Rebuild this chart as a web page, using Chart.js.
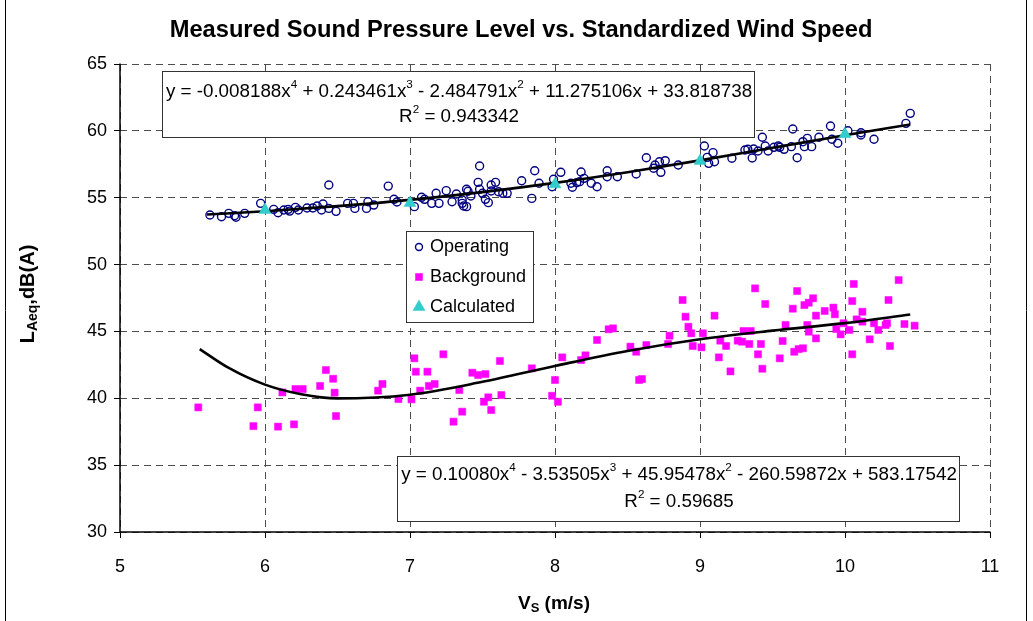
<!DOCTYPE html>
<html>
<head>
<meta charset="utf-8">
<script src="https://cdn.jsdelivr.net/npm/chart.js@4/dist/chart.umd.min.js"></script>
<style>
  html, body { margin: 0; padding: 0; background: #fff; }
  #wrap { width: 1033px; height: 621px; position: relative; }
</style>
</head>
<body>
<div id="wrap"><canvas id="c" width="1033" height="621"></canvas></div>
<script>
// ---------------- DATA ----------------
const chartTitle = 'Measured Sound Pressure Level vs. Standardized Wind Speed';
const xTicks = [5, 6, 7, 8, 9, 10, 11];
const yTicks = [30, 35, 40, 45, 50, 55, 60, 65];

const operatingX = [5.62,5.70,5.75,5.79,5.80,5.86,5.97,6.06,6.09,6.13,6.16,6.17,6.21,6.23,6.29,6.33,6.36,6.39,6.40,6.44,
  6.44,6.49,6.57,6.61,6.62,6.70,6.71,6.75,6.85,6.89,6.91,7.03,7.08,7.10,7.15,7.18,7.20,7.25,7.29,7.32,
  7.36,7.36,7.37,7.39,7.39,7.40,7.42,7.47,7.48,7.48,7.50,7.52,7.54,7.56,7.56,7.59,7.61,7.64,7.67,7.77,
  7.84,7.86,7.89,7.98,7.99,8.04,8.11,8.12,8.15,8.17,8.18,8.20,8.25,8.29,8.36,8.36,8.43,8.56,8.63,8.68,
  8.69,8.72,8.73,8.76,8.85,9.03,9.05,9.06,9.09,9.10,9.22,9.31,9.33,9.36,9.37,9.40,9.43,9.45,9.47,9.51,
  9.54,9.55,9.58,9.63,9.64,9.67,9.71,9.72,9.74,9.77,9.82,9.90,9.91,9.95,10.02,10.11,10.11,10.20,10.42,10.45];
const operatingY = [53.71,53.58,53.83,53.66,53.54,53.83,54.58,54.13,53.88,54.08,54.13,54.00,54.28,54.08,54.23,54.23,54.38,54.08,54.53,55.95,
  54.20,53.98,54.58,54.58,54.20,54.20,54.70,54.45,55.87,54.88,54.68,54.33,55.03,54.88,54.58,55.33,54.58,55.53,54.70,55.28,
  54.83,54.58,54.38,54.33,55.63,55.48,55.13,56.15,57.37,55.63,55.33,54.88,54.63,55.95,55.50,56.15,55.45,55.33,55.33,56.27,
  54.95,57.02,56.08,55.82,56.38,56.90,56.08,55.78,56.13,56.20,56.92,56.45,56.08,55.82,56.57,57.02,56.57,56.77,57.99,57.20,
  57.45,57.69,56.90,57.77,57.45,58.87,58.02,57.57,58.37,57.69,57.95,58.57,58.62,57.97,58.64,58.49,59.52,58.87,58.49,58.77,
  58.87,58.77,58.62,58.82,60.14,57.99,59.19,58.82,59.44,58.82,59.52,60.36,59.37,59.07,60.01,59.86,59.69,59.37,60.56,61.31];

const backgroundX = [5.54,5.92,5.95,6.09,6.12,6.20,6.21,6.26,6.38,6.42,6.47,6.48,6.49,6.78,6.81,6.92,7.01,7.03,7.04,7.07,
  7.12,7.13,7.17,7.23,7.30,7.34,7.36,7.43,7.47,7.52,7.51,7.54,7.56,7.62,7.63,7.84,7.98,8.00,8.02,8.05,
  8.18,8.21,8.29,8.37,8.40,8.52,8.56,8.58,8.60,8.63,8.78,8.79,8.88,8.90,8.92,8.94,8.95,9.01,9.02,9.10,
  9.13,9.14,9.18,9.21,9.26,9.29,9.30,9.34,9.35,9.38,9.40,9.42,9.43,9.45,9.55,9.57,9.59,9.64,9.65,9.67,
  9.68,9.71,9.72,9.74,9.75,9.78,9.75,9.80,9.80,9.86,9.92,9.93,9.94,9.97,9.99,10.03,10.05,10.05,10.06,10.08,
  10.12,10.12,10.17,10.20,10.23,10.28,10.30,10.31,10.29,10.37,10.41,10.48];
const backgroundY = [39.32,37.92,39.32,37.88,40.44,38.05,40.69,40.69,40.92,42.11,41.46,40.42,38.67,40.57,41.07,39.94,39.92,42.99,41.99,40.57,
  41.99,40.92,41.07,43.29,38.25,40.62,39.00,41.91,41.74,41.81,39.74,40.07,39.12,42.79,40.24,42.24,40.19,41.37,39.74,43.06,
  42.86,43.21,44.36,45.16,45.23,43.86,43.48,41.37,41.44,43.98,44.06,44.68,47.35,46.10,45.35,44.86,43.91,43.81,44.86,46.18,
  43.06,44.31,43.91,42.01,44.31,44.23,45.03,44.06,45.03,48.22,43.29,44.06,42.21,47.05,42.99,44.28,45.48,46.70,43.48,48.02,
  43.68,43.74,46.97,45.48,47.15,47.48,44.98,46.18,44.48,46.53,46.78,46.28,45.18,44.78,45.61,45.11,43.29,47.27,48.55,45.90,
  46.47,45.73,44.41,45.61,45.11,45.48,47.35,43.91,45.61,48.84,45.55,45.43];

const calculatedX = [6, 7, 8, 9, 10];
const calculatedY = [54.08, 54.6, 56.0, 57.75, 59.75];

// trendline points
const opTrendX = [5.6, 6, 6.5, 7, 7.5, 8, 8.5, 9, 9.5, 10, 10.45];
const opTrendY = [53.74, 53.99, 54.37, 54.84, 55.42, 56.11, 56.91, 57.79, 58.73, 59.67, 60.48];
const bgTrendX = [5.55, 5.75, 6, 6.25, 6.5, 7, 7.5, 8, 8.5, 9, 9.5, 10, 10.45];
const bgTrendY = [43.68, 42.27, 41.02, 40.30, 39.99, 40.27, 41.23, 42.42, 43.54, 44.42, 45.06, 45.62, 46.27];

const eqOperating = ['y = -0.008188x', '4', ' + 0.243461x', '3', ' - 2.484791x', '2', ' + 11.275106x + 33.818738'];
const r2Operating = '0.943342';
const eqBackground = ['y = 0.10080x', '4', ' - 3.53505x', '3', ' + 45.95478x', '2', ' - 260.59872x + 583.17542'];
const r2Background = '0.59685';

const seriesNames = ['Operating', 'Background', 'Calculated'];

// ---------------- CHART ----------------
const FONT = '"Liberation Sans", Arial, Helvetica, sans-serif';
const zip = (xs, ys) => xs.map((x, i) => ({ x: x, y: ys[i] }));

function drawRich(ctx, parts, cx, cy, size, bold) {
  const w = bold ? 'bold ' : '';
  let total = 0;
  const widths = parts.map((p, i) => {
    const sup = i % 2 === 1;
    ctx.font = w + (sup ? (size * 0.62).toFixed(1) : size) + 'px ' + FONT;
    const m = ctx.measureText(p).width;
    total += m;
    return m;
  });
  let x = cx - total / 2;
  ctx.textBaseline = 'middle';
  ctx.textAlign = 'left';
  parts.forEach((p, i) => {
    const sup = i % 2 === 1;
    ctx.font = w + (sup ? (size * 0.62).toFixed(1) : size) + 'px ' + FONT;
    ctx.fillText(p, x, sup ? cy - size * 0.38 : cy);
    x += widths[i];
  });
}

// text with a subscript part: [main, sub, main]
function drawSub(ctx, parts, cx, cy, size, subSize) {
  const fonts = ['bold ' + size + 'px ' + FONT, 'bold ' + subSize + 'px ' + FONT, 'bold ' + size + 'px ' + FONT];
  const ws = parts.map((p, i) => { ctx.font = fonts[i]; return ctx.measureText(p).width; });
  let x = cx - (ws[0] + ws[1] + ws[2]) / 2;
  ctx.textAlign = 'left'; ctx.textBaseline = 'middle';
  parts.forEach((p, i) => {
    ctx.font = fonts[i];
    ctx.fillText(p, x, i === 1 ? cy + size * 0.25 : cy);
    x += ws[i];
  });
}

function drawBox(ctx, x1, y1, x2, y2) {
  ctx.save();
  ctx.fillStyle = '#fff';
  ctx.fillRect(x1, y1, x2 - x1, y2 - y1);
  ctx.strokeStyle = '#333';
  ctx.lineWidth = 1;
  ctx.setLineDash([]);
  ctx.strokeRect(x1 + 0.5, y1 + 0.5, x2 - x1, y2 - y1);
  ctx.restore();
}

const overlay = {
  id: 'overlay',
  beforeDatasetsDraw(chart) {
    // solid axis lines (left and bottom)
    const ctx = chart.ctx, a = chart.chartArea;
    ctx.save();
    ctx.strokeStyle = '#000';
    ctx.lineWidth = 1.5;
    ctx.setLineDash([]);
    ctx.beginPath();
    ctx.moveTo(a.left, a.top - 0.5); ctx.lineTo(a.left, a.bottom);
    ctx.lineTo(a.right + 0.5, a.bottom);
    ctx.stroke();
    ctx.restore();
  },
  afterDraw(chart) {
    const ctx = chart.ctx;
    ctx.save();
    ctx.fillStyle = '#000';
    // title
    ctx.font = 'bold 23.7px ' + FONT;
    ctx.textAlign = 'center';
    ctx.textBaseline = 'middle';
    ctx.fillText(chartTitle, 521, 30);

    // equation boxes
    drawBox(ctx, 162, 71, 754, 137);
    ctx.fillStyle = '#000';
    drawRich(ctx, eqOperating, 459, 92, 18.8, false);
    drawRich(ctx, ['R', '2', ' = ' + r2Operating], 459, 117, 18.8, false);

    drawBox(ctx, 397, 456, 959, 521);
    ctx.fillStyle = '#000';
    drawRich(ctx, eqBackground, 679, 475, 18.8, false);
    drawRich(ctx, ['R', '2', ' = ' + r2Background], 679, 502, 18.8, false);

    // legend
    drawBox(ctx, 406, 231, 533, 322);
    const ds = chart.data.datasets;
    const rows = [247, 277, 307];
    for (let i = 0; i < 3; i++) {
      const d = ds[i];
      const y = rows[i];
      ctx.save();
      ctx.fillStyle = d.backgroundColor;
      ctx.strokeStyle = d.borderColor;
      ctx.lineWidth = d.borderWidth;
      ctx.setLineDash([]);
      Chart.helpers.drawPoint(ctx, { pointStyle: d.pointStyle, radius: d.pointStyle === 'circle' ? 3.5 : d.pointRadius, borderWidth: d.borderWidth, rotation: 0 }, 419, y);
      ctx.restore();
      ctx.fillStyle = '#000';
      ctx.font = '18px ' + FONT;
      ctx.textAlign = 'left';
      ctx.textBaseline = 'middle';
      ctx.fillText(d.label, 430, y);
    }

    // axis titles
    ctx.fillStyle = '#000';
    drawSub(ctx, ['V', 'S', ' (m/s)'], 554, 604, 19, 13);
    ctx.save();
    ctx.translate(28, 294);
    ctx.rotate(-Math.PI / 2);
    drawSub(ctx, ['L', 'Aeq', ',dB(A)'], 0, 0, 20, 14);
    ctx.restore();

    // outer frame
    ctx.strokeStyle = '#000';
    ctx.lineWidth = 1;
    ctx.setLineDash([]);
    ctx.beginPath();
    ctx.moveTo(5.5, 0); ctx.lineTo(5.5, 621);
    ctx.moveTo(1026.5, 0); ctx.lineTo(1026.5, 621);
    ctx.stroke();
    ctx.restore();
  }
};

const gridCommon = {
  color: '#4d4d4d',
  lineWidth: 1,
  tickColor: '#000',
  tickLength: 6,
  tickBorderDash: [],
  borderDash: [7, 5],
  drawTicks: true
};

new Chart(document.getElementById('c'), {
  type: 'scatter',
  data: {
    datasets: [
      {
        label: seriesNames[0], data: zip(operatingX, operatingY),
        pointStyle: 'circle', pointRadius: 4, borderColor: '#000080', backgroundColor: 'rgba(255,255,255,0)',
        borderWidth: 1.4, order: 3
      },
      {
        label: seriesNames[1], data: zip(backgroundX, backgroundY),
        pointStyle: 'rect', pointRadius: 5, borderColor: '#FF00FF', backgroundColor: '#FF00FF',
        borderWidth: 0.5, order: 4
      },
      {
        label: seriesNames[2], data: zip(calculatedX, calculatedY),
        pointStyle: 'triangle', pointRadius: 7, borderColor: '#33CCCC', backgroundColor: '#33CCCC',
        borderWidth: 0.5, order: 0
      },
      {
        label: 'trend-op', data: zip(opTrendX, opTrendY), type: 'line', showLine: true,
        pointRadius: 0, borderColor: '#000', borderWidth: 2.6, cubicInterpolationMode: 'monotone', fill: false, order: 1
      },
      {
        label: 'trend-bg', data: zip(bgTrendX, bgTrendY), type: 'line', showLine: true,
        pointRadius: 0, borderColor: '#000', borderWidth: 2.6, cubicInterpolationMode: 'monotone', fill: false, order: 2
      }
    ]
  },
  options: {
    responsive: false,
    animation: false,
    events: [],
    layout: { padding: { left: 0, right: 43, top: 64, bottom: 0 } },
    plugins: { legend: { display: false }, title: { display: false }, tooltip: { enabled: false } },
    scales: {
      x: {
        type: 'linear', min: 5, max: 11,
        afterBuildTicks: (s) => { s.ticks = xTicks.map(v => ({ value: v })); },
        afterFit: (s) => { s.height = 89; },
        grid: Object.assign({}, gridCommon),
        border: { display: false, dash: [7, 5] },
        ticks: { color: '#000', font: { family: FONT, size: 18 }, padding: 18, maxRotation: 0 }
      },
      y: {
        type: 'linear', min: 30, max: 65,
        afterBuildTicks: (s) => { s.ticks = yTicks.map(v => ({ value: v })); },
        afterFit: (s) => { s.width = 120; },
        grid: Object.assign({}, gridCommon),
        border: { display: false, dash: [7, 5] },
        ticks: { color: '#000', font: { family: FONT, size: 18 }, padding: 7 }
      }
    }
  },
  plugins: [overlay]
});
</script>
</body>
</html>
